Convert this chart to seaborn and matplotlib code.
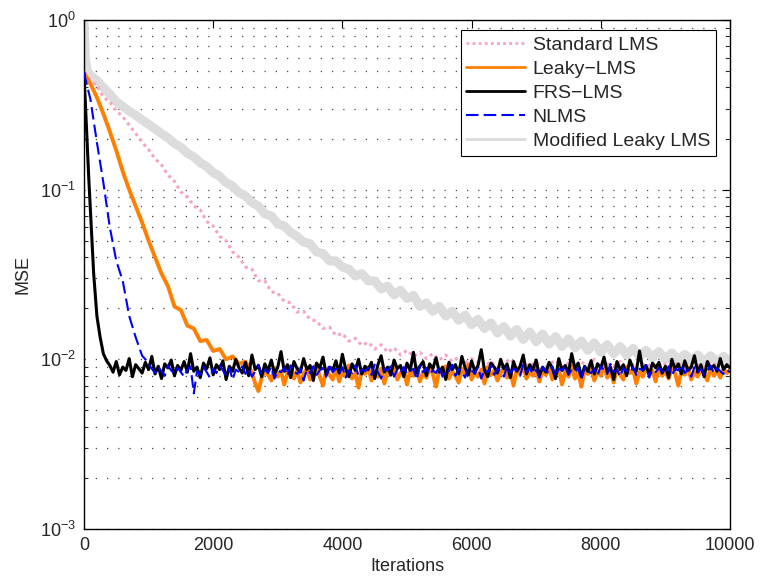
import numpy as np
import pandas as pd
import matplotlib
matplotlib.use("Agg")
import matplotlib.pyplot as plt
import seaborn as sns
from matplotlib.ticker import LogLocator, NullFormatter, FixedLocator

# ---------------- data ----------------
x_ticks = [0, 2000, 4000, 6000, 8000, 10000]

std_iter = list(range(0, 10001, 100))
std_mse = [0.49, 0.44, 0.41, 0.35, 0.33, 0.29, 0.27, 0.24, 0.215, 0.19,
           0.172, 0.152, 0.140, 0.122, 0.112, 0.097, 0.091, 0.080, 0.076, 0.065,
           0.061, 0.053, 0.050, 0.043, 0.040, 0.035, 0.034, 0.029, 0.029, 0.025,
           0.0245, 0.022, 0.0215, 0.019, 0.0192, 0.0172, 0.0168, 0.0152, 0.0155, 0.0138,
           0.0142, 0.0128, 0.0133, 0.0121, 0.0126, 0.0115, 0.0122, 0.0110, 0.0117, 0.0106,
           0.0113, 0.0104, 0.0110, 0.0101, 0.0108, 0.0099, 0.0106, 0.0097, 0.0103, 0.0095,
           0.0101,
           0.0096, 0.0090, 0.0098, 0.0088, 0.0094, 0.0101, 0.0089, 0.0095, 0.0091, 0.0097,
           0.0087, 0.0093, 0.0099, 0.0090, 0.0095, 0.0088, 0.0096, 0.0092, 0.0100, 0.0089,
           0.0094, 0.0091, 0.0097, 0.0086, 0.0093, 0.0098, 0.0090, 0.0095, 0.0088, 0.0094,
           0.0099, 0.0091, 0.0096, 0.0089, 0.0093, 0.0090, 0.0097, 0.0092, 0.0095, 0.0091]

leaky_iter = list(range(0, 2501, 100)) + list(range(2550, 10001, 50))
leaky_mse = [0.49, 0.42, 0.35, 0.28, 0.22, 0.17, 0.128, 0.100, 0.080, 0.064,
             0.050, 0.040, 0.032, 0.027, 0.0205, 0.0195, 0.0158, 0.0152, 0.0128, 0.0130,
             0.0112, 0.0115, 0.0100, 0.0104, 0.0094, 0.0097,
             0.0090, 0.0084, 0.0072, 0.0065, 0.0078, 0.0086, 0.0081, 0.0075, 0.0089, 0.0079,
             0.0085, 0.0071, 0.0083, 0.0091, 0.0077, 0.0086, 0.0073, 0.0082, 0.0088, 0.0076,
             0.0084, 0.0093, 0.0079, 0.0070, 0.0087, 0.0081, 0.0076, 0.0089, 0.0074, 0.0085,
             0.0080, 0.0092, 0.0077, 0.0083, 0.0068, 0.0086, 0.0082, 0.0090, 0.0075, 0.0084,
             0.0079, 0.0088, 0.0072, 0.0085, 0.0081, 0.0094, 0.0076, 0.0083, 0.0087, 0.0071,
             0.0086, 0.0080, 0.0090, 0.0074, 0.0084, 0.0078, 0.0089, 0.0082, 0.0069, 0.0087,
             0.0083, 0.0091, 0.0077, 0.0085, 0.0080, 0.0073, 0.0088, 0.0082, 0.0093, 0.0076,
             0.0084, 0.0079, 0.0087, 0.0072, 0.0090, 0.0081, 0.0086, 0.0075, 0.0083, 0.0089,
             0.0078, 0.0085, 0.0070, 0.0088, 0.0082, 0.0092, 0.0077, 0.0084, 0.0080, 0.0087,
             0.0074, 0.0086, 0.0081, 0.0090, 0.0076, 0.0083, 0.0088, 0.0071, 0.0085, 0.0079,
             0.0091, 0.0077, 0.0084, 0.0069, 0.0087, 0.0082, 0.0089, 0.0075, 0.0086, 0.0080,
             0.0093, 0.0078, 0.0085, 0.0073, 0.0088, 0.0081, 0.0076, 0.0090, 0.0083, 0.0087,
             0.0072, 0.0084, 0.0079, 0.0089, 0.0082, 0.0086, 0.0074, 0.0091, 0.0080, 0.0085,
             0.0077, 0.0088, 0.0083, 0.0070, 0.0086, 0.0081, 0.0090, 0.0076, 0.0084, 0.0079,
             0.0087, 0.0082, 0.0075, 0.0089, 0.0080, 0.0085, 0.0078, 0.0088, 0.0083, 0.0086]

frs_iter = [0, 25, 50, 75, 100, 150, 200, 250, 300, 350] + list(range(400, 10001, 50))
frs_mse = [0.49, 0.30, 0.18, 0.115, 0.075, 0.032, 0.018, 0.0135, 0.0108, 0.0098,
           0.0092, 0.0084, 0.0097, 0.0081, 0.0090, 0.0086, 0.0101, 0.0079, 0.0093, 0.0088,
           0.0083, 0.0096, 0.0087, 0.0104, 0.0082, 0.0091, 0.0077, 0.0094, 0.0089, 0.0099,
           0.0080, 0.0092, 0.0086, 0.0097, 0.0084, 0.0108, 0.0085, 0.0090, 0.0078, 0.0095,
           0.0088, 0.0102, 0.0081, 0.0093, 0.0087, 0.0098, 0.0076, 0.0091, 0.0085, 0.0100,
           0.0089, 0.0083, 0.0096, 0.0080, 0.0106, 0.0087, 0.0092, 0.0079, 0.0094, 0.0086,
           0.0099, 0.0082, 0.0090, 0.0111, 0.0085, 0.0093, 0.0078, 0.0097, 0.0088, 0.0084,
           0.0101, 0.0087, 0.0092, 0.0075, 0.0095, 0.0089, 0.0103, 0.0081, 0.0090, 0.0086,
           0.0098, 0.0083, 0.0107, 0.0088, 0.0079, 0.0094, 0.0086, 0.0100, 0.0082, 0.0091,
           0.0087, 0.0096, 0.0077, 0.0093, 0.0105, 0.0084, 0.0090, 0.0081, 0.0099, 0.0088,
           0.0092, 0.0079, 0.0095, 0.0086, 0.0110, 0.0083, 0.0091, 0.0097, 0.0080, 0.0094,
           0.0088, 0.0102, 0.0084, 0.0090, 0.0076, 0.0096, 0.0087, 0.0093, 0.0082, 0.0104,
           0.0089, 0.0081, 0.0098, 0.0085, 0.0092, 0.0114, 0.0086, 0.0079, 0.0095, 0.0090,
           0.0083, 0.0100, 0.0088, 0.0094, 0.0078, 0.0097, 0.0085, 0.0091, 0.0106, 0.0082,
           0.0093, 0.0087, 0.0099, 0.0080, 0.0090, 0.0084, 0.0096, 0.0089, 0.0077, 0.0101,
           0.0086, 0.0092, 0.0083, 0.0108, 0.0088, 0.0095, 0.0079, 0.0091, 0.0085, 0.0098,
           0.0082, 0.0094, 0.0089, 0.0103, 0.0084, 0.0090, 0.0076, 0.0097, 0.0087, 0.0093,
           0.0080, 0.0099, 0.0088, 0.0085, 0.0112, 0.0086, 0.0092, 0.0081, 0.0095, 0.0089,
           0.0096, 0.0083, 0.0091, 0.0078, 0.0100, 0.0087, 0.0094, 0.0082, 0.0098, 0.0086,
           0.0090, 0.0105, 0.0084, 0.0093, 0.0079, 0.0097, 0.0088, 0.0092, 0.0085, 0.0101,
           0.0087, 0.0093, 0.0089]

nlms_iter = list(range(0, 901, 100)) + list(range(950, 10001, 50))
nlms_mse = [0.49, 0.34, 0.19, 0.11, 0.060, 0.038, 0.029, 0.018, 0.0135, 0.0105,
            0.0100, 0.0094, 0.0088, 0.0083, 0.0090, 0.0085, 0.0080, 0.0092, 0.0086, 0.0082,
            0.0089, 0.0084, 0.0079, 0.0087, 0.0091, 0.0063, 0.0085, 0.0081, 0.0090, 0.0084,
            0.0078, 0.0088, 0.0083, 0.0092, 0.0086, 0.0080, 0.0089, 0.0076, 0.0087, 0.0084,
            0.0091, 0.0082, 0.0088, 0.0079, 0.0085, 0.0093, 0.0081, 0.0087, 0.0083, 0.0090,
            0.0077, 0.0086, 0.0084, 0.0089, 0.0080, 0.0092, 0.0085, 0.0082, 0.0088, 0.0075,
            0.0087, 0.0083, 0.0091, 0.0081, 0.0086, 0.0089, 0.0079, 0.0094, 0.0084, 0.0088,
            0.0082, 0.0090, 0.0078, 0.0086, 0.0083, 0.0092, 0.0080, 0.0087, 0.0085, 0.0089,
            0.0081, 0.0093, 0.0084, 0.0077, 0.0088, 0.0086, 0.0091, 0.0079, 0.0087, 0.0083,
            0.0090, 0.0082, 0.0085, 0.0088, 0.0076, 0.0092, 0.0084, 0.0089, 0.0081, 0.0086,
            0.0083, 0.0091, 0.0079, 0.0087, 0.0085, 0.0093, 0.0080, 0.0088, 0.0084, 0.0078,
            0.0089, 0.0086, 0.0082, 0.0090, 0.0077, 0.0087, 0.0084, 0.0092, 0.0081, 0.0088,
            0.0085, 0.0079, 0.0091, 0.0083, 0.0088, 0.0086, 0.0080, 0.0093, 0.0084, 0.0089,
            0.0082, 0.0087, 0.0078, 0.0090, 0.0085, 0.0083, 0.0091, 0.0079, 0.0088, 0.0086,
            0.0092, 0.0081, 0.0087, 0.0084, 0.0089, 0.0076, 0.0090, 0.0085, 0.0083, 0.0088,
            0.0080, 0.0091, 0.0086, 0.0082, 0.0094, 0.0084, 0.0087, 0.0079, 0.0089, 0.0085,
            0.0083, 0.0090, 0.0081, 0.0088, 0.0086, 0.0092, 0.0078, 0.0087, 0.0084, 0.0089,
            0.0085, 0.0082, 0.0091, 0.0080, 0.0088, 0.0086, 0.0093, 0.0083, 0.0087, 0.0079,
            0.0090, 0.0084, 0.0088, 0.0081, 0.0086, 0.0092, 0.0083, 0.0089, 0.0085, 0.0082,
            0.0087, 0.0084]

mod_iter = [0, 20, 50, 100] + list(range(200, 10001, 100))
mod_mse = [1.0, 0.60, 0.50, 0.47,
           0.44, 0.40, 0.365, 0.33, 0.31, 0.29, 0.275, 0.258,
           0.243, 0.228, 0.214, 0.202, 0.187, 0.178, 0.164, 0.156, 0.144, 0.137,
           0.126, 0.120, 0.110, 0.105, 0.096, 0.092, 0.084, 0.080, 0.072, 0.070,
           0.063, 0.061, 0.056, 0.053, 0.049, 0.048, 0.043, 0.042, 0.038, 0.038,
           0.035, 0.034, 0.031, 0.032, 0.029, 0.029, 0.026, 0.027, 0.024, 0.0255,
           0.0228, 0.0238, 0.0205, 0.0215, 0.0192, 0.0205, 0.0180, 0.0192, 0.0170, 0.0182,
           0.0160, 0.0172, 0.0152, 0.0164, 0.0143, 0.0156, 0.0137, 0.0150, 0.0131, 0.0145,
           0.0127, 0.0141, 0.0123, 0.0136, 0.0119, 0.0132, 0.0117, 0.0128, 0.0113, 0.0125,
           0.0110, 0.0122, 0.0108, 0.0119, 0.0106, 0.0116, 0.0104, 0.0113, 0.0102, 0.0111,
           0.0100, 0.0109, 0.0099, 0.0107, 0.0098, 0.0106, 0.0097, 0.0105, 0.0096, 0.0104,
           0.0097]

labels = ["Standard LMS", "Leaky\u2212LMS", "FRS\u2212LMS", "NLMS", "Modified Leaky LMS"]

# ---------------- style ----------------
sns.set_style("white")
plt.rcParams["font.family"] = ["Liberation Sans", "DejaVu Sans"]
plt.rcParams["mathtext.fontset"] = "custom"
plt.rcParams["mathtext.rm"] = "Liberation Sans"
plt.rcParams["mathtext.it"] = "Liberation Sans:italic"
plt.rcParams["axes.unicode_minus"] = True

fig = plt.figure(figsize=(7.6, 5.86), dpi=100)
ax = fig.add_axes([0.1105, 0.0973, 0.85, 0.8686])

series = [
    (std_iter, std_mse, labels[0], "#F7A1C9", 2.2, (0, (1, 1.2)), 3),
    (leaky_iter, leaky_mse, labels[1], "#FF8000", 2.8, "-", 4),
    (frs_iter, frs_mse, labels[2], "black", 2.2, "-", 5),
    (nlms_iter, nlms_mse, labels[3], "#0000FF", 1.5, (0, (6, 2.5)), 6),
    (mod_iter, mod_mse, labels[4], "#DCDCDC", 6.5, "-", 2),
]

for it, mse, lab, col, lw, ls, z in series:
    df = pd.DataFrame({"Iterations": it, "MSE": mse})
    sns.lineplot(data=df, x="Iterations", y="MSE", ax=ax, color=col, lw=lw,
                 linestyle=ls, label=lab, zorder=z, estimator=None)

ax.set_yscale("log")
ax.set_xlim(0, 10000)
ax.set_ylim(1e-3, 1)
ax.xaxis.set_major_locator(FixedLocator(x_ticks))
ax.yaxis.set_major_locator(LogLocator(base=10, numticks=10))
ax.yaxis.set_minor_locator(LogLocator(base=10, subs=np.arange(2, 10), numticks=20))
ax.yaxis.set_minor_formatter(NullFormatter())

# horizontal dotted grid only (major + minor y)
ax.grid(False)
ax.yaxis.grid(True, which="both", color="#444444", linestyle=(0, (1, 8)), linewidth=0.9)
ax.xaxis.grid(False)

for sp in ax.spines.values():
    sp.set_color("black")
    sp.set_linewidth(1.0)
ax.tick_params(axis="both", which="major", direction="in", length=6, width=0.8,
               top=True, right=True, labelsize=13, color="black", pad=6)
ax.tick_params(axis="y", which="minor", direction="in", length=3, width=0.6,
               left=True, right=True, color="black")

ax.set_xlabel("Iterations", fontsize=13, labelpad=3)
ax.set_ylabel("MSE", fontsize=13, labelpad=6)

leg = ax.legend(loc="upper right", bbox_to_anchor=(0.978, 0.980), borderaxespad=0,
                fontsize=14, handlelength=3.0, handletextpad=0.4, labelspacing=0.33,
                frameon=True, fancybox=False, framealpha=1, edgecolor="black",
                borderpad=0.3)
leg.get_frame().set_linewidth(0.8)
for h in leg.get_lines():
    h.set_linewidth(min(h.get_linewidth(), 2.0))

fig.savefig("out.png", dpi=100)
